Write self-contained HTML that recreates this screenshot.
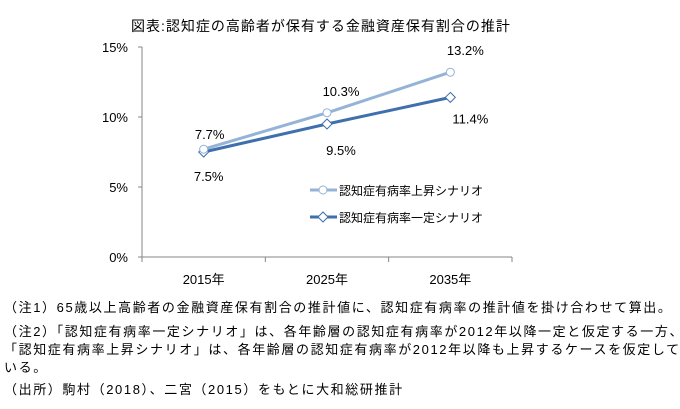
<!DOCTYPE html>
<html><head><meta charset="utf-8"><style>
body{margin:0;background:#fff;width:680px;height:409px;overflow:hidden;font-family:"Liberation Sans","Noto Sans CJK JP",sans-serif;}
.note{position:absolute;left:4px;font-size:13px;color:#000;white-space:nowrap;line-height:16px;letter-spacing:1.6px;}
</style></head><body>
<svg width="680" height="290" style="position:absolute;left:0;top:0" font-family="Liberation Sans, Noto Sans CJK JP, sans-serif">
<text x="321" y="31" text-anchor="middle" font-size="14" letter-spacing="1">図表:認知症の高齢者が保有する金融資産保有割合の推計</text>
<g id="axes"></g><g id="series"></g>
<g>
<line x1="310" y1="190" x2="337" y2="190" stroke="#95b3d7" stroke-width="3"/><circle cx="323" cy="190" r="4" fill="#fff" stroke="#95b3d7"/>
<text x="339" y="195" font-size="12">認知症有病率上昇シナリオ</text>
<line x1="310" y1="217" x2="337" y2="217" stroke="#3f6fac" stroke-width="3"/><path d="M323 212L328 217L323 222L318 217Z" fill="#fff" stroke="#3f6fac"/>
<text x="339" y="222" font-size="12">認知症有病率一定シナリオ</text>
</g>
</svg>
<div class="note" style="top:300px">（注1）65歳以上高齢者の金融資産保有割合の推計値に、認知症有病率の推計値を掛け合わせて算出。</div>
<div class="note" style="top:324px">（注2）「認知症有病率一定シナリオ」は、各年齢層の認知症有病率が2012年以降一定と仮定する一方、</div>
<div class="note" style="top:342px">「認知症有病率上昇シナリオ」は、各年齢層の認知症有病率が2012年以降も上昇するケースを仮定して</div>
<div class="note" style="top:360px">いる。</div>
<div class="note" style="top:382px">（出所）駒村（2018）、二宮（2015）をもとに大和総研推計</div>
<script>
const categories=["2015年","2025年","2035年"];
const rising=[7.7,10.3,13.2];
const constant=[7.5,9.5,11.4];
const yTicks=[0,5,10,15];
const NS="http://www.w3.org/2000/svg";
const X0=142,X1=512,Y0=257,Y1=47,YMAX=15;
const cw=(X1-X0)/categories.length;
const xs=i=>X0+cw*(i+0.5);
const ys=v=>Y0-(v/YMAX)*(Y0-Y1);
function mk(t,a,p){const e=document.createElementNS(NS,t);for(const k in a)e.setAttribute(k,a[k]);p.appendChild(e);return e;}
const ax=document.getElementById('axes'),se=document.getElementById('series');
let l=mk('line',{x1:X0,y1:Y1,x2:X0,y2:Y0,stroke:'#868686'},ax);


l=mk('line',{x1:X0,y1:Y0,x2:X1,y2:Y0,stroke:'#868686'},ax);


yTicks.forEach(v=>{mk('line',{x1:X0-4,y1:ys(v),x2:X0,y2:ys(v),stroke:'#868686'},ax);
const t=mk('text',{x:X0-14,y:ys(v)+5,'text-anchor':'end','font-size':13},ax);t.textContent=v+'%';

});
for(let i=0;i<=categories.length;i++)mk('line',{x1:X0+cw*i,y1:Y0,x2:X0+cw*i,y2:Y0+5,stroke:'#868686'},ax);
categories.forEach((c,i)=>{const t=mk('text',{x:xs(i),y:284,'text-anchor':'middle','font-size':13},ax);t.textContent=c;

});
function draw(vals,color,name,shape,labOff,labX){
const p=mk('polyline',{points:vals.map((v,i)=>xs(i)+','+ys(v)).join(' '),fill:'none',stroke:color,'stroke-width':3},se);


vals.forEach((v,i)=>{const x=xs(i),y=ys(v);let m;
if(shape==='c')m=mk('circle',{cx:x,cy:y,r:4,fill:'#fff',stroke:color},se);
else m=mk('path',{d:`M${x} ${y-5}L${x+5} ${y}L${x} ${y+5}L${x-5} ${y}Z`,fill:'#fff',stroke:color},se);


const t=mk('text',{x:x+labX[i],y:y+labOff[i],'text-anchor':'middle','font-size':13},se);t.textContent=v.toFixed(1)+'%';

});}
draw(constant,'#3f6fac','constant-scenario','d',[29,31,26],[5,14,20]);
draw(rising,'#95b3d7','rising-scenario','c',[-10,-17,-17],[6,14,15]);
</script>
</body></html>
